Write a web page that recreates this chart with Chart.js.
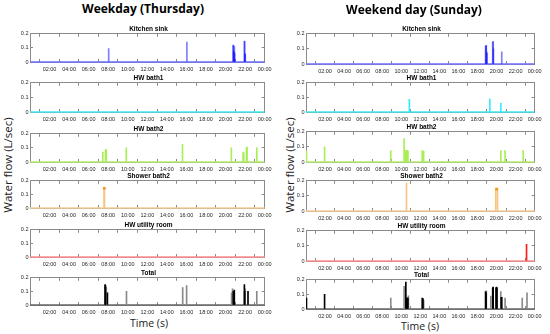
<!DOCTYPE html>
<html><head><meta charset="utf-8">
<script src="https://cdn.jsdelivr.net/npm/chart.js@4.4.1/dist/chart.umd.min.js"></script>
<style>
html,body{margin:0;padding:0;background:#fff}
body{width:550px;height:334px;position:relative;overflow:hidden;font-family:"Liberation Sans",Arial,sans-serif}
canvas.c{position:absolute}
.pt{position:absolute;font-weight:bold;font-size:6.5px;line-height:7px;transform:translate(-50%,-50%);white-space:nowrap;color:#000}
.ct{position:absolute;font-family:"Open Sans",sans-serif;font-weight:bold;font-size:12px;transform:translate(-50%,-50%);white-space:nowrap;color:#000}
.yl{position:absolute;font-family:"Open Sans",sans-serif;font-size:11.5px;transform:translate(-50%,-50%) rotate(-90deg);white-space:nowrap;color:#222}
.xl{position:absolute;font-family:"Open Sans",sans-serif;font-size:10.5px;transform:translate(-50%,-50%);white-space:nowrap;color:#222}
</style>
</head><body>
<script>
// ---------- axes ----------
const timeTicks  = [0, 2, 4, 6, 8, 10, 12, 14, 16, 18, 20, 22, 24];
const timeLabels = ['', '02:00', '04:00', '06:00', '08:00', '10:00', '12:00', '14:00', '16:00', '18:00', '20:00', '22:00', '00:00'];
const flowTicks  = [0, 0.1, 0.2];
const flowLabels = ['0', '0.1', '0.2'];
const fixtures   = ['Kitchen sink', 'HW bath1', 'HW bath2', 'Shower bath2', 'HW utility room', 'Total'];
const dayTitles  = ['Weekday (Thursday)', 'Weekend day (Sunday)'];
const yTitle = 'Water flow (L/sec)';
const xTitle = 'Time (s)';

// ---------- Weekday (Thursday) ----------
const wdKitchenTimes = [8.05, 16.05, 20.78, 20.81, 20.84, 20.87, 20.91, 20.94, 21.93, 21.96, 21.99, 22.02];
const wdKitchenFlows = [0.095, 0.142, 0.118, 0.12, 0.075, 0.07, 0.11, 0.06, 0.149, 0.145, 0.06, 0.055];
const wdBath1Times = [];
const wdBath1Flows = [];
const wdBath2Times = [7.45, 7.72, 7.8, 9.85, 15.6, 20.6, 21.8, 21.87, 22.15, 22.2, 23.2];
const wdBath2Flows = [0.07, 0.085, 0.09, 0.1, 0.125, 0.1, 0.07, 0.065, 0.1, 0.105, 0.1];
const wdShowerTimes = [7.58, 7.62];
const wdShowerFlows = [0.15, 0.15];
const wdShowerPeakTimes = [7.6];
const wdShowerPeakRange = [[0.138, 0.152]];
const wdUtilityTimes = [];
const wdUtilityFlows = [];
const wdTotalTimes = [7.68, 7.72, 7.92, 20.8, 20.84, 20.9, 21.93, 21.96, 22.3];
const wdTotalFlows = [0.15, 0.145, 0.09, 0.1, 0.08, 0.11, 0.15, 0.1, 0.1];
const wdTotalOtherTimes = [7.8, 9.87, 15.62, 16.02, 20.62, 20.72, 22.0, 23.2];
const wdTotalOtherFlows = [0.13, 0.1, 0.128, 0.142, 0.09, 0.118, 0.12, 0.1];

// ---------- Weekend day (Sunday) ----------
const weKitchenTimes = [18.85, 18.9, 18.93, 18.96, 19.0, 19.6, 19.65, 19.68, 20.55];
const weKitchenFlows = [0.118, 0.12, 0.124, 0.08, 0.07, 0.145, 0.15, 0.1, 0.08];
const weBath1Times = [10.85, 19.3, 20.45];
const weBath1Flows = [0.087, 0.088, 0.06];
const weBath2Times = [0.05, 1.95, 8.9, 10.3, 10.48, 10.55, 10.62, 10.7, 12.2, 12.28, 12.35, 20.45, 20.9, 22.8];
const weBath2Flows = [0.075, 0.1, 0.075, 0.155, 0.075, 0.075, 0.075, 0.075, 0.075, 0.072, 0.07, 0.075, 0.075, 0.075];
const weShowerTimes = [10.55, 19.92, 20.1];
const weShowerFlows = [0.185, 0.15, 0.15];
const weShowerPeakTimes = [20.01];
const weShowerPeakRange = [[0.138, 0.152]];
const weUtilityTimes = [23.15];
const weUtilityFlows = [0.11];
const weTotalTimes = [0.05, 1.95, 10.48, 10.55, 10.62, 10.7, 12.2, 12.28, 18.85, 18.9, 19.6, 19.65, 19.95, 20.0, 20.05, 20.5, 20.55];
const weTotalFlows = [0.075, 0.1, 0.185, 0.075, 0.075, 0.075, 0.075, 0.072, 0.12, 0.11, 0.145, 0.15, 0.145, 0.15, 0.145, 0.08, 0.08];
const weTotalOtherTimes = [8.9, 10.3, 10.75, 12.35, 18.93, 19.4, 20.45, 20.9, 22.7, 23.2];
const weTotalOtherFlows = [0.075, 0.155, 0.09, 0.06, 0.124, 0.088, 0.12, 0.075, 0.075, 0.11];

// ---------- styles / layout ----------
const styles = [
  {bar: 'rgba(20,20,255,0.55)', base: '#6f6fff'},
  {bar: '#33eaff', base: '#3fe6f0'},
  {bar: '#a8ee55', base: '#b6ec6c'},
  {bar: '#f7c482', base: '#f8cf94', peak: '#f29a12'},
  {bar: '#ff1a1a', base: '#ff8c8c'},
  {bar: '#000000', base: '#666666', other: '#8a8a8a'}
];
const colFrames = [{l: 30, r: 267}, {l: 306, r: 537}];
const rowFrames = [
  [[32, 62], [81, 112], [132, 162], [179, 208], [228, 257], [276, 305]],
  [[32, 64], [81, 112], [130, 162], [179, 211], [229, 261], [278, 309]]
];

const pts = (ts, vs) => ts.map((t, i) => ({x: t, y: vs[i]}));
const columns = [
  [
    {main: pts(wdKitchenTimes, wdKitchenFlows)},
    {main: pts(wdBath1Times, wdBath1Flows)},
    {main: pts(wdBath2Times, wdBath2Flows)},
    {main: pts(wdShowerTimes, wdShowerFlows), peak: pts(wdShowerPeakTimes, wdShowerPeakRange)},
    {main: pts(wdUtilityTimes, wdUtilityFlows)},
    {main: pts(wdTotalTimes, wdTotalFlows), other: pts(wdTotalOtherTimes, wdTotalOtherFlows)}
  ],
  [
    {main: pts(weKitchenTimes, weKitchenFlows)},
    {main: pts(weBath1Times, weBath1Flows)},
    {main: pts(weBath2Times, weBath2Flows)},
    {main: pts(weShowerTimes, weShowerFlows), peak: pts(weShowerPeakTimes, weShowerPeakRange)},
    {main: pts(weUtilityTimes, weUtilityFlows)},
    {main: pts(weTotalTimes, weTotalFlows), other: pts(weTotalOtherTimes, weTotalOtherFlows)}
  ]
];

const AXW = 30, PADT = 6, PADR = 12, AXH = 14;
const frameColor = '#8a8a8a';
const tickFont = {family: '"Liberation Sans", Arial, sans-serif', size: 5.5};
const titlePos = [{x: 143, y: 8}, {x: 414, y: 8.5}];

function addDiv(cls, text, x, y) {
  const d = document.createElement('div');
  d.className = cls; d.textContent = text;
  d.style.left = x + 'px'; d.style.top = y + 'px';
  document.body.appendChild(d);
}

function hiddenAxis(pos, isX) {
  return {
    position: pos,
    min: isX ? timeTicks[0] : flowTicks[0],
    max: isX ? timeTicks[timeTicks.length - 1] : flowTicks[flowTicks.length - 1],
    type: 'linear', offset: false,
    afterBuildTicks: s => { s.ticks = (isX ? timeTicks : flowTicks).map(v => ({value: v})); },
    ticks: {display: false},
    grid: {drawOnChartArea: false, drawTicks: true, tickLength: -3, color: frameColor, lineWidth: 1},
    border: {display: true, color: frameColor, width: 1},
    afterFit: s => { if (isX) s.height = 0; else s.width = 0; }
  };
}

colFrames.forEach((cf, ci) => {
  addDiv('ct', dayTitles[ci], titlePos[ci].x, titlePos[ci].y);
  addDiv('yl', yTitle, ci === 0 ? 7 : 289, 165);
  addDiv('xl', xTitle, ci === 0 ? 149 : 420, ci === 0 ? 323 : 326);
  rowFrames[ci].forEach((rf, ri) => {
    const st = styles[ri];
    const pd = columns[ci][ri];
    const w = (cf.r - cf.l) + AXW + PADR;
    const h = (rf[1] - rf[0]) + PADT + AXH;
    const cv = document.createElement('canvas');
    cv.className = 'c';
    cv.width = w; cv.height = h;
    cv.style.width = w + 'px'; cv.style.height = h + 'px';
    cv.style.left = (cf.l - AXW) + 'px'; cv.style.top = (rf[0] - PADT) + 'px';
    document.body.appendChild(cv);
    addDiv('pt', fixtures[ri], (cf.l + cf.r) / 2, rf[0] - 4.5);

    const datasets = [
      {type: 'line', data: [{x: timeTicks[0], y: 0}, {x: timeTicks[timeTicks.length - 1], y: 0}],
       borderColor: st.base, borderWidth: 1.6, pointRadius: 0, clip: false, order: 5}
    ];
    if (pd.other) datasets.push({type: 'bar', data: pd.other, backgroundColor: st.other, barThickness: 1, grouped: false, order: 3});
    datasets.push({type: 'bar', data: pd.main, backgroundColor: st.bar, barThickness: 1, grouped: false, order: 2});
    if (pd.peak) datasets.push({type: 'bar', data: pd.peak, backgroundColor: st.peak, barThickness: 2, grouped: false, order: 1});

    new Chart(cv, {
      type: 'bar',
      data: {datasets},
      options: {
        responsive: false, animation: false, devicePixelRatio: 1,
        layout: {padding: {left: 0, top: PADT, right: PADR, bottom: 0}},
        plugins: {legend: {display: false}, tooltip: {enabled: false}, title: {display: false}},
        scales: {
          x: {
            type: 'linear', position: 'bottom', offset: false,
            min: timeTicks[0], max: timeTicks[timeTicks.length - 1],
            afterBuildTicks: s => { s.ticks = timeTicks.map(v => ({value: v})); },
            ticks: {callback: (v, i) => timeLabels[i], autoSkip: false, maxRotation: 0, minRotation: 0,
                    font: tickFont, color: '#262626', padding: 7.5},
            grid: {drawOnChartArea: false, drawTicks: true, tickLength: -3, color: frameColor, lineWidth: 1},
            border: {display: true, color: frameColor, width: 1},
            afterFit: s => { s.height = AXH; }
          },
          x2: hiddenAxis('top', true),
          y: {
            type: 'linear', position: 'left',
            min: flowTicks[0], max: flowTicks[flowTicks.length - 1],
            afterBuildTicks: s => { s.ticks = flowTicks.map(v => ({value: v})); },
            ticks: {callback: (v, i) => flowLabels[i], font: tickFont, color: '#262626', padding: 4.5},
            grid: {drawOnChartArea: false, drawTicks: true, tickLength: -3, color: frameColor, lineWidth: 1},
            border: {display: true, color: frameColor, width: 1},
            afterFit: s => { s.width = AXW; }
          },
          y2: hiddenAxis('right', false)
        }
      }
    });
  });
});
</script>
</body></html>
